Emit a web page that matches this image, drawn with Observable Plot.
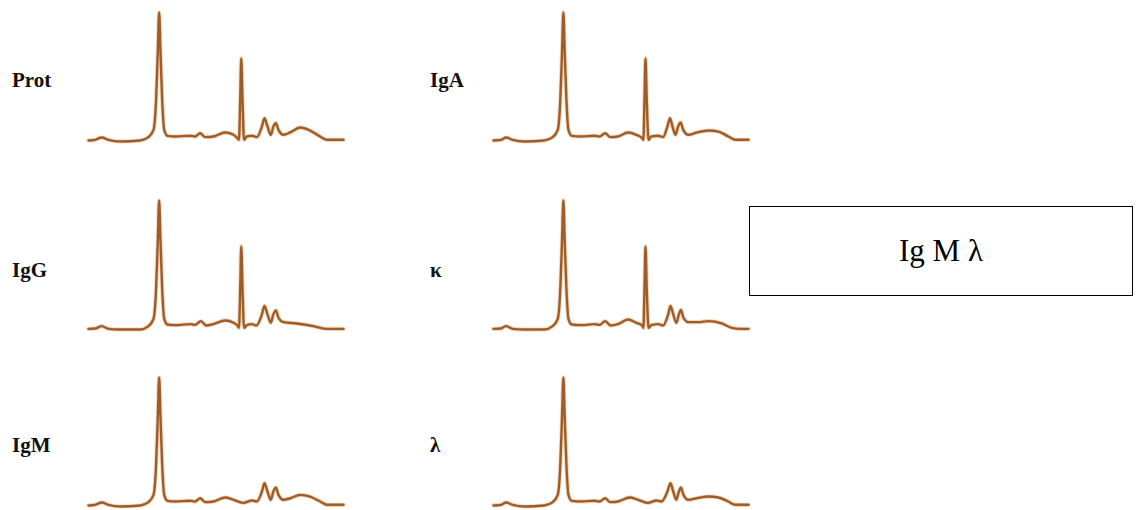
<!DOCTYPE html>
<html>
<head>
<meta charset="utf-8">
<script src="https://cdn.jsdelivr.net/npm/d3@7"></script>
<script src="https://cdn.jsdelivr.net/npm/@observablehq/plot@0.6"></script>
<style>
  html, body { margin: 0; padding: 0; background: #fff; }
  #stage { position: relative; width: 1140px; height: 510px; overflow: hidden; background: #fff; }
  .panel { position: absolute; }
  .lbl { position: absolute; font-family: "Liberation Serif", "DejaVu Serif", serif; font-weight: bold; font-size: 21px; line-height: 1; color: #111; }
  #box { position: absolute; left: 749px; top: 206px; width: 382px; height: 88px; border: 1.5px solid #000;
         display: flex; align-items: center; justify-content: center;
         font-family: "Liberation Serif", "DejaVu Serif", serif; font-size: 31px; color: #000; }
</style>
</head>
<body>
<div id="stage"></div>
<script>
// ---- Data ----
const panelNames = ["Prot", "IgA", "IgG", "κ", "IgM", "λ"];
const boxLabel = "Ig M λ";

// relative mobility (0–100) and relative intensity (0–100, main peak = 100)
const protMobility = [0,2.6,5.2,7.8,12.4,20.3,23.5,25.5,26.5,27.2,27.7,28.2,28.9,29.7,31.0,34.0,39.9,41.8,43.8,45.8,49.0,53.6,56.9,58.4,59.0,59.5,59.9,60.4,61.0,62.1,64.1,66.0,68.0,69.0,70.2,71.5,72.5,73.5,74.5,76.5,79.1,83.0,86.9,90.8,93.5,97.4,100];
const protIntensity = [0.8,1.3,3.1,1.3,0,0.8,3.4,9.0,32.2,70.9,100,70.9,32.2,9.0,4.4,3.9,4.4,3.9,6.4,3.4,3.9,7.0,5.2,2.6,1.3,32.2,64.4,32.2,1.3,3.9,4.4,3.4,11.6,18.0,11.6,5.2,11.6,14.2,9.0,5.2,7.0,10.8,8.5,3.9,1.3,1.3,1.3];

const igaMobility = [0,2.9,4.9,7.5,12.1,19.9,23.2,25.2,26.2,26.9,27.4,27.9,28.6,29.4,30.7,34.4,39.6,41.6,43.8,45.8,48.8,52.8,56.0,58.3,58.8,59.2,59.6,60.1,60.8,61.9,64.6,66.5,68.2,69.2,70.2,71.4,72.4,73.4,74.4,76.4,79.7,84.3,88.2,92.1,94.8,97.4,100];
const igaIntensity = [0.8,1.3,3.1,1.3,0,0.8,3.4,9.0,32.2,70.9,100,70.9,32.2,9.0,4.4,3.9,4.4,3.9,6.4,3.4,3.9,7.0,5.2,2.6,1.3,32.2,64.4,32.2,1.3,3.9,4.4,3.4,11.6,18.0,11.6,5.2,11.6,14.7,9.0,5.2,7.0,8.5,7.7,3.9,1.3,1.3,1.3];

const iggMobility = [0,2.6,5.2,7.8,12.4,20.3,23.5,25.5,26.5,27.2,27.7,28.2,28.9,29.7,31.0,34.0,39.9,41.8,44.1,46.1,49.0,53.6,56.9,58.4,59.0,59.5,59.9,60.4,61.0,62.1,64.1,65.8,68.0,69.0,70.2,71.5,72.5,73.5,74.5,76.5,81.7,88.2,93.5,97.4,100];
const iggIntensity = [0.5,0.8,2.6,0.5,0,0,2.6,8.3,31.2,70.1,100,70.1,31.2,8.3,3.9,3.4,4.2,3.6,6.5,3.1,4.2,7.0,5.2,3.1,1.3,31.2,64.4,31.2,1.3,3.4,4.2,3.1,11.7,18.2,11.7,5.2,11.7,14.8,9.1,5.7,4.7,2.6,0.5,0.5,0.5];

const kappaMobility = [0,2.9,4.9,7.5,12.1,19.9,23.2,25.2,26.2,26.9,27.4,27.9,28.6,29.4,30.7,34.4,39.6,41.6,43.8,45.9,48.8,52.8,56.0,58.3,58.8,59.2,59.6,60.1,60.8,61.9,64.6,66.5,68.5,69.4,70.5,71.7,72.7,73.5,74.5,76.4,80.3,84.3,89.5,93.4,96.7,100];
const kappaIntensity = [0.5,0.8,2.6,0.5,0,0,2.6,8.3,31.2,70.1,100,70.1,31.2,8.3,3.9,3.4,4.2,3.6,6.5,3.1,4.2,7.8,5.2,3.1,1.3,31.2,64.4,31.2,1.3,3.4,4.2,3.1,11.7,18.2,11.7,5.2,11.7,15.1,9.1,5.7,5.7,6.5,4.7,1.3,0.5,0.5];

const igmMobility = [0,2.6,5.2,7.8,12.4,20.3,23.5,25.5,26.5,27.2,27.7,28.2,28.9,29.7,31.0,34.0,39.9,41.8,43.8,45.8,49.0,53.6,56.9,60.8,64.1,66.0,68.0,69.0,70.2,71.5,72.5,73.5,74.5,76.5,79.1,83.0,86.9,90.8,93.5,97.4,100];
const igmIntensity = [0.8,1.3,3.1,1.3,0,0.8,3.4,9.0,32.2,70.9,100,70.9,32.2,9.0,4.4,3.9,4.4,3.9,6.4,3.4,3.9,7.0,5.2,2.8,4.6,3.9,11.6,18.0,11.6,5.2,11.6,14.7,9.0,5.2,6.4,9.0,7.7,3.9,1.3,1.3,1.3];

const lambdaMobility = [0,2.9,4.9,7.5,12.1,19.9,23.2,25.2,26.2,26.9,27.4,27.9,28.6,29.4,30.7,34.4,39.6,41.6,43.8,45.8,48.8,53.4,56.7,60.6,63.9,65.9,68.2,69.4,70.5,71.7,72.7,73.5,74.5,76.4,79.7,84.3,88.2,92.1,94.8,97.4,100];
const lambdaIntensity = [0.8,1.3,3.1,1.3,0,0.8,3.4,9.0,32.2,70.9,100,70.9,32.2,9.0,4.4,3.9,4.4,3.9,6.4,3.4,3.9,7.0,5.2,2.8,4.6,3.9,11.6,18.0,11.6,5.2,11.6,14.7,9.0,5.2,6.4,7.7,7.0,3.9,1.3,1.3,1.3];

// ---- Layout ----
const traces = [
  {name: panelNames[0], mob: protMobility,   int: protIntensity,   col: 0, row: 0},
  {name: panelNames[1], mob: igaMobility,    int: igaIntensity,    col: 1, row: 0},
  {name: panelNames[2], mob: iggMobility,    int: iggIntensity,    col: 0, row: 1},
  {name: panelNames[3], mob: kappaMobility,  int: kappaIntensity,  col: 1, row: 1},
  {name: panelNames[4], mob: igmMobility,    int: igmIntensity,    col: 0, row: 2},
  {name: panelNames[5], mob: lambdaMobility, int: lambdaIntensity, col: 1, row: 2}
];
const colLeft = [78, 483];
const rowTop = [4, 192, 369];
const labelLeft = [12, 430];
const labelTop = [70, 260, 435];

const stage = document.getElementById("stage");
const lineColor = "#a05c27";

for (const t of traces) {
  const data = t.mob.map((m, i) => ({m, v: t.int[i]}));
  const chart = Plot.plot({
    width: 275,
    height: 141,
    marginLeft: 10,
    marginRight: 10,
    marginTop: 8,
    marginBottom: 4,
    x: {domain: [0, 100], axis: null},
    y: {domain: [0, 100], axis: null},
    style: {background: "transparent", overflow: "visible"},
    marks: [
      Plot.line(data, {x: "m", y: "v", stroke: "#d99a5a", strokeWidth: 4.2, strokeOpacity: 0.4, curve: "monotone-x"}),
      Plot.line(data, {x: "m", y: "v", stroke: lineColor, strokeWidth: 2.4, curve: "monotone-x", strokeLinejoin: "round"})
    ]
  });
  chart.classList.add("panel");
  chart.style.left = colLeft[t.col] + "px";
  chart.style.top = rowTop[t.row] + "px";
  stage.appendChild(chart);

  const lbl = document.createElement("div");
  lbl.className = "lbl";
  lbl.textContent = t.name;
  lbl.style.left = labelLeft[t.col] + "px";
  lbl.style.top = labelTop[t.row] + "px";
  stage.appendChild(lbl);
}

const box = document.createElement("div");
box.id = "box";
box.textContent = boxLabel;
stage.appendChild(box);
</script>
</body>
</html>
